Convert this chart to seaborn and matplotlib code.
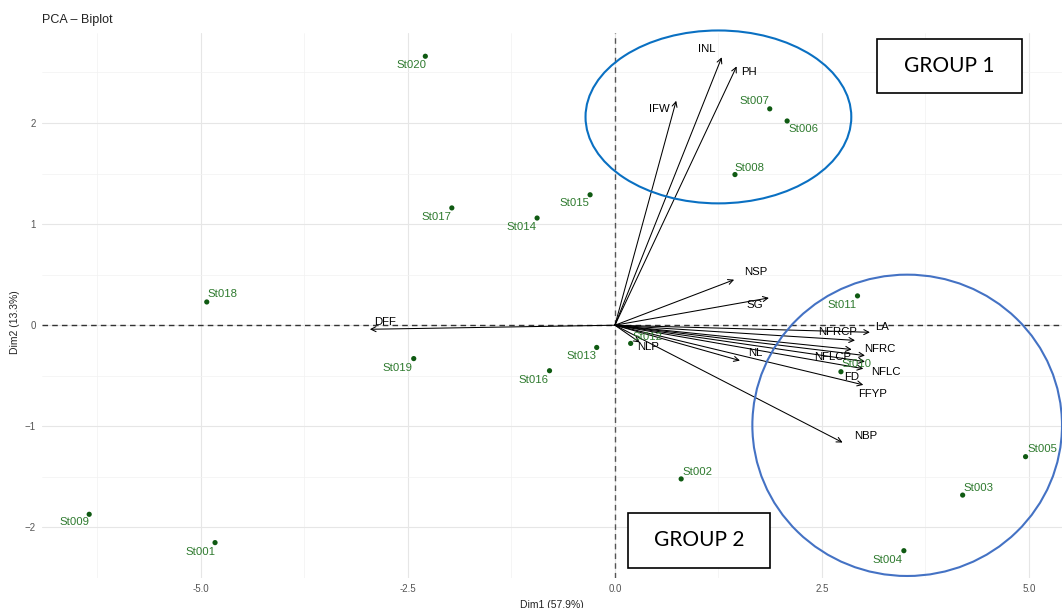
import matplotlib
matplotlib.use("Agg")
import matplotlib.pyplot as plt
from matplotlib.patches import Ellipse, Rectangle
import seaborn as sns
import pandas as pd

# Individuals (accessions) projected on the first two principal components
accessions = ["St001", "St002", "St003", "St004", "St005", "St006", "St007",
              "St008", "St009", "St010", "St011", "St012", "St013", "St014",
              "St015", "St016", "St017", "St018", "St019", "St020"]
acc_dim1 = [-4.83, 0.80, 4.20, 3.49, 4.96, 2.08, 1.87, 1.45, -6.35, 2.73,
            2.93, 0.19, -0.22, -0.94, -0.30, -0.79, -1.97, -4.93, -2.43, -2.29]
acc_dim2 = [-2.15, -1.52, -1.68, -2.23, -1.30, 2.02, 2.14, 1.49, -1.87, -0.46,
            0.29, -0.18, -0.22, 1.06, 1.29, -0.45, 1.16, 0.23, -0.33, 2.66]

# Trait loadings (variable arrows)
traits = ["INL", "PH", "IFW", "NSP", "SG", "DFF", "LA", "NFRCP", "NFRC",
          "NFLCP", "FD", "NFLC", "FFYP", "NL", "NBP", "NLP"]
trait_dim1 = [1.29, 1.47, 0.74, 1.44, 1.86, -2.96, 3.08, 2.90, 2.86,
              3.02, 3.02, 3.00, 3.00, 1.51, 2.75, 0.30]
trait_dim2 = [2.65, 2.56, 2.22, 0.45, 0.27, -0.04, -0.07, -0.15, -0.24,
              -0.30, -0.36, -0.43, -0.59, -0.35, -1.16, -0.17]

title = "PCA \u2013 Biplot"
xlab = "Dim1 (57.9%)"
ylab = "Dim2 (13.3%)"
group_labels = ["GROUP 1", "GROUP 2"]

# label nudges in pixels (right, down)
acc_nudge = {
    "St001": (-15, 9), "St002": (16, -7), "St003": (16, -7), "St004": (-16, 9),
    "St005": (17, -8), "St006": (16, 8), "St007": (-15, -8), "St008": (15, -7),
    "St009": (-15, 8), "St010": (16, -8), "St011": (-15, 9), "St012": (17, -6),
    "St013": (-15, 9), "St014": (-16, 9), "St015": (-16, 8), "St016": (-16, 9),
    "St017": (-15, 9), "St018": (16, -8), "St019": (-16, 9), "St020": (-14, 9),
}
trait_nudge = {
    "INL": (-15, -8), "PH": (12, 6), "IFW": (-17, 8), "NSP": (22, -8),
    "SG": (-14, 7), "DFF": (15, -7), "LA": (12, -5), "NFRCP": (-17, -8),
    "NFRC": (28, 0), "NFLCP": (-32, 1), "FD": (-13, 15), "NFLC": (23, 3),
    "FFYP": (9, 9), "NL": (15, -8), "NBP": (23, -7), "NLP": (8, 5),
}

sns.set_theme(style="whitegrid")
plt.rcParams["font.family"] = ["Liberation Sans", "DejaVu Sans"]

W, H = 1062, 608
fig = plt.figure(figsize=(W / 100, H / 100), dpi=100)
ax = fig.add_axes([42 / W, 30 / H, 1 - 42 / W, (578 - 33) / H])
ax.set_facecolor("white")

ax.set_xlim(-6.92, 5.40)
ax.set_ylim(-2.40, 2.89)
ax.set_xticks([-5.0, -2.5, 0.0, 2.5, 5.0])
ax.set_xticklabels(["-5.0", "-2.5", "0.0", "2.5", "5.0"])
ax.set_yticks([-2, -1, 0, 1, 2])
ax.set_yticklabels(["\u22122", "\u22121", "0", "1", "2"])
ax.set_xticks([-6.25, -3.75, -1.25, 1.25, 3.75], minor=True)
ax.set_yticks([-2.5, -1.5, -0.5, 0.5, 1.5, 2.5], minor=True)
ax.grid(which="major", color="#e6e6e6", linewidth=0.8)
ax.grid(which="minor", color="#f2f2f2", linewidth=0.5)
for s in ax.spines.values():
    s.set_visible(False)
ax.tick_params(axis="both", which="major", labelsize=7, labelcolor="#555555",
               color="#666666", length=2.5, width=0.6, pad=2)
ax.tick_params(axis="both", which="minor", length=0)
ax.set_axisbelow(True)

# reference lines
ax.axhline(0, color="#333333", linestyle=(0, (4, 3)), linewidth=1.0, zorder=1)
ax.axvline(0, color="#555555", linestyle=(0, (4, 3)), linewidth=1.0, zorder=1)

# individuals
df = pd.DataFrame({"name": accessions, "Dim1": acc_dim1, "Dim2": acc_dim2})
sns.scatterplot(data=df, x="Dim1", y="Dim2", ax=ax, color="#0f5a12",
                s=14, edgecolor="none", zorder=4, legend=False)
for n, x, y in zip(accessions, acc_dim1, acc_dim2):
    dx, dy = acc_nudge[n]
    ax.annotate(n, (x, y), xytext=(dx * 0.72, -dy * 0.72),
                textcoords="offset points", ha="center", va="center",
                fontsize=8.2, color="#2e7a2e", zorder=5)

# trait arrows
for n, x, y in zip(traits, trait_dim1, trait_dim2):
    ax.annotate("", xy=(x, y), xytext=(0, 0),
                arrowprops=dict(arrowstyle="->", color="black", lw=0.75,
                                shrinkA=0, shrinkB=0,
                                mutation_scale=9),
                zorder=3)
    dx, dy = trait_nudge[n]
    ax.annotate(n, (x, y), xytext=(dx * 0.72, -dy * 0.72),
                textcoords="offset points", ha="center", va="center",
                fontsize=8.2, color="black", zorder=5)

ax.set_xlabel(xlab, fontsize=7.5, color="#222222", labelpad=4)
ax.set_ylabel(ylab, fontsize=7.5, color="#222222", labelpad=4)
ax.yaxis.set_label_coords(-0.022, (578 - 322) / (578 - 33))
fig.text(42 / W, 1 - 20 / H, title, fontsize=9, color="#222222",
         ha="left", va="center")

# group outlines
g1 = Ellipse((1.25, 2.06), 3.21, 1.71, fill=False, edgecolor="#0a70c2",
             linewidth=1.5, clip_on=False, zorder=6)
g2 = Ellipse((3.53, -0.99), 3.74, 2.98, fill=False, edgecolor="#4472c4",
             linewidth=1.5, clip_on=False, zorder=6)
ax.add_patch(g1)
ax.add_patch(g2)

# group boxes
boxes = [(877, 39, 1022, 93), (628, 513, 770, 568)]
for (x0, y0, x1, y1), lab in zip(boxes, group_labels):
    fig.patches.append(Rectangle((x0 / W, 1 - y1 / H), (x1 - x0) / W,
                                 (y1 - y0) / H, transform=fig.transFigure,
                                 fill=True, facecolor="white",
                                 edgecolor="black", linewidth=1.2, zorder=10))
    fig.text((x0 + x1) / 2 / W, 1 - (y0 + y1) / 2 / H, lab, fontsize=15,
             family=["Lato", "DejaVu Sans"], color="black",
             ha="center", va="center", zorder=11)

fig.savefig("out.png", dpi=100)
